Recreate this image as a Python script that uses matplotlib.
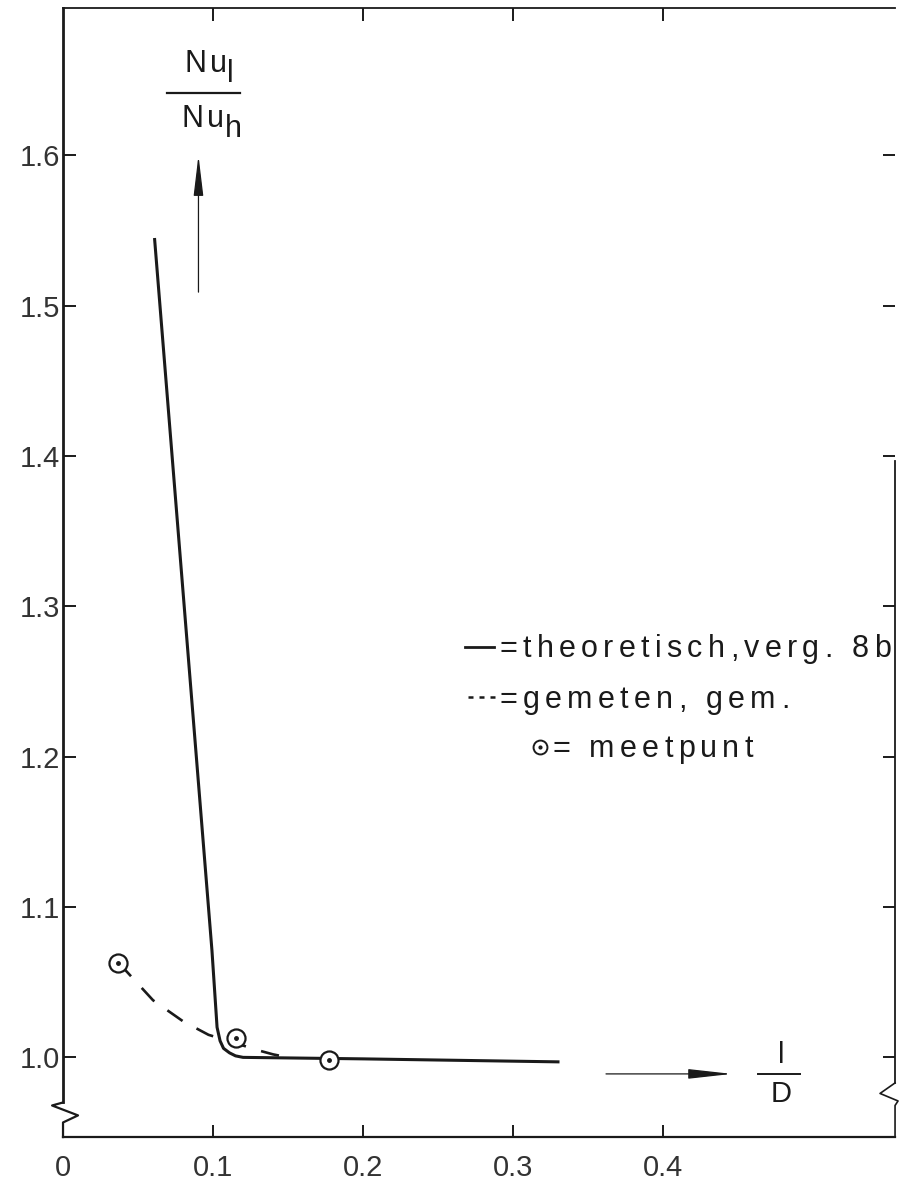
import matplotlib
matplotlib.use("Agg")
import matplotlib.pyplot as plt
from matplotlib.font_manager import FontProperties
from matplotlib.transforms import offset_copy

plt.rcParams['font.family'] = ['Liberation Sans', 'DejaVu Sans']

# ---- data ----
theory_x = [0.061, 0.0993, 0.1027, 0.1047, 0.107, 0.111, 0.115, 0.120, 0.200, 0.331]
theory_y = [1.545, 1.071, 1.020, 1.011, 1.006, 1.003, 1.001, 1.000, 0.999, 0.997]

measured_x = [0.037, 0.060, 0.080, 0.097, 0.115, 0.129, 0.140, 0.150]
measured_y = [1.063, 1.038, 1.024, 1.015, 1.0095, 1.005, 1.002, 1.000]

points_x = [0.0367, 0.1153, 0.177]
points_y = [1.063, 1.0126, 0.998]

xticks = [0.0, 0.1, 0.2, 0.3, 0.4]
xtick_labels = ['0', '0.1', '0.2', '0.3', '0.4']
yticks = [1.0, 1.1, 1.2, 1.3, 1.4, 1.5, 1.6]
ytick_labels = ['1.0', '1.1', '1.2', '1.3', '1.4', '1.5', '1.6']

legend_labels = ['=theoretisch,verg. 8b', '=gemeten, gem.', '= meetpunt']

XMIN, XMAX = 0.0, 0.5547
YMIN, YMAX = 0.947, 1.698
INK = '#1a1a1a'

fig = plt.figure(figsize=(8.99, 11.93), dpi=100)
ax = fig.add_axes([0.0701, 0.0469, 0.9956 - 0.0701, 0.9933 - 0.0469])
ax.set_xlim(XMIN, XMAX)
ax.set_ylim(YMIN, YMAX)
renderer = fig.canvas.get_renderer()


def tracked_text(x, y, s, size, extra_px, color=INK):
    """Hand-lettered look: draw text with extra letter spacing (baseline aligned)."""
    fp = FontProperties(family=['Liberation Sans', 'DejaVu Sans'], size=size)
    for i, ch in enumerate(s):
        if ch == ' ':
            continue
        if i > 0:
            w, _, _ = renderer.get_text_width_height_descent(s[:i], fp, ismath=False)
        else:
            w = 0.0
        tr = offset_copy(ax.transData, fig=fig, x=w + i * extra_px, y=0, units='dots')
        ax.text(x, y, ch, transform=tr, fontproperties=fp, color=color,
                ha='left', va='baseline', clip_on=False)


# curves
ax.plot(theory_x, theory_y, color=INK, lw=2.2, solid_capstyle='butt')
ax.plot(measured_x, measured_y, color=INK, lw=1.9, dashes=(7, 6))
ax.plot(points_x, points_y, 'o', ms=13, mfc='white', mec=INK, mew=1.6, zorder=5)
ax.plot(points_x, points_y, 'o', ms=2.5, mfc=INK, mec=INK, zorder=6)

# spines
for s in ['left', 'bottom', 'top', 'right']:
    ax.spines[s].set_color(INK)
ax.spines['left'].set_linewidth(2.0)
ax.spines['bottom'].set_linewidth(1.6)
ax.spines['top'].set_linewidth(1.3)
ax.spines['right'].set_linewidth(1.3)
ax.spines['left'].set_bounds(0.970, YMAX)
ax.spines['right'].set_bounds(0.983, 1.397)

# broken-axis zigzags
ax.plot([0, -0.0073, 0.010, 0, 0], [0.970, 0.968, 0.9614, 0.9567, YMIN],
        color=INK, lw=1.6, clip_on=False)
ax.plot([XMAX, XMAX - 0.010, XMAX + 0.002, XMAX, XMAX], [0.983, 0.976, 0.971, 0.968, YMIN],
        color=INK, lw=1.2, clip_on=False)

# ticks
ax.set_xticks(xticks)
ax.set_xticklabels(xtick_labels)
ax.set_yticks(yticks)
ax.set_yticklabels(ytick_labels)
ax.tick_params(axis='both', direction='in', length=9, width=1.4, colors=INK,
               labelsize=21, top=True, right=True)
ax.tick_params(axis='x', pad=12)
ax.tick_params(axis='y', pad=2)
for lab in ax.get_xticklabels() + ax.get_yticklabels():
    lab.set_color('#333333')
ax.xaxis.get_major_ticks()[0].tick1line.set_visible(False)
ax.xaxis.get_major_ticks()[0].tick2line.set_visible(False)

# y-axis quantity label with arrow
tracked_text(0.0807, 1.6553, 'Nu', 22, 4)
ax.text(0.1113, 1.6487, 'l', fontsize=22, color=INK, ha='center', va='baseline')
ax.plot([0.0693, 0.1180], [1.6414, 1.6414], color=INK, lw=1.6)
tracked_text(0.0787, 1.6188, 'Nu', 22, 4)
ax.text(0.1133, 1.6121, 'h', fontsize=22, color=INK, ha='center', va='baseline')
ax.annotate('', xy=(0.0903, 1.600), xytext=(0.0903, 1.509),
            arrowprops=dict(arrowstyle='-|>,head_length=2.5,head_width=0.3',
                            lw=0.9, color=INK, mutation_scale=10, shrinkA=0, shrinkB=0))

# x-axis quantity label with arrow
ax.annotate('', xy=(0.446, 0.989), xytext=(0.362, 0.989),
            arrowprops=dict(arrowstyle='-|>,head_length=2.7,head_width=0.3',
                            lw=0.9, color=INK, mutation_scale=10, shrinkA=0, shrinkB=0))
ax.text(0.4787, 1.0013, 'l', fontsize=21, color=INK, ha='center', va='center')
ax.plot([0.4633, 0.4913], [0.989, 0.989], color=INK, lw=1.4)
ax.text(0.4787, 0.9755, 'D', fontsize=21, color=INK, ha='center', va='center')

# hand-lettered legend
leg_y = [1.266, 1.2325, 1.1995]
mid_off = 0.0072
ax.plot([0.268, 0.287], [leg_y[0] + mid_off] * 2, color=INK, lw=2.0, clip_on=False)
tracked_text(0.291, leg_y[0], legend_labels[0], 22, 5.3)
ax.plot([0.270, 0.289], [leg_y[1] + mid_off] * 2, color=INK, lw=1.8,
        dashes=(2.0, 2.4), clip_on=False)
tracked_text(0.291, leg_y[1], legend_labels[1], 22, 5.3)
ax.plot([0.318], [leg_y[2] + mid_off], 'o', ms=10, mfc='white', mec=INK, mew=1.4)
ax.plot([0.318], [leg_y[2] + mid_off], 'o', ms=2, mfc=INK, mec=INK)
tracked_text(0.326, leg_y[2], legend_labels[2], 22, 5.3)

fig.savefig('out.png', dpi=100)
